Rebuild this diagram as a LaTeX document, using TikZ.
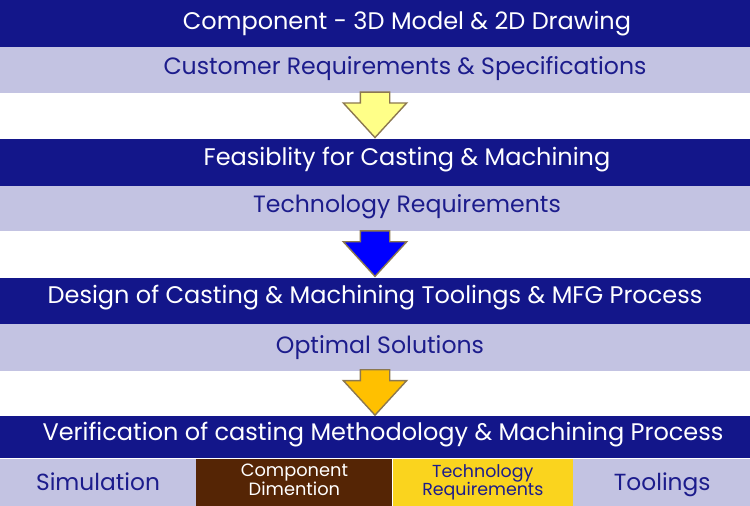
\documentclass[tikz,border=0pt]{standalone}
\usepackage{fontspec}
\setmainfont{Poppins}
\usetikzlibrary{positioning, shapes.arrows, calc}
\definecolor{cmNavy}{RGB}{19, 22, 138}
\definecolor{cmLav}{RGB}{195, 195, 226}
\definecolor{cmInk}{RGB}{28, 28, 140}
\definecolor{cmBrown}{RGB}{85, 37, 5}
\definecolor{cmGold}{RGB}{250, 212, 30}
\definecolor{cmPale}{RGB}{255, 255, 136}
\definecolor{cmBlue}{RGB}{0, 0, 255}
\definecolor{cmAmber}{RGB}{255, 192, 0}
\definecolor{cmEdge}{RGB}{140, 120, 80}

\begin{document}
\begin{tikzpicture}[x=1pt, y=-1pt,
    band/.style={rectangle, inner sep=0pt, minimum width=750pt},
    darkband/.style={band, fill=cmNavy},
    lightband/.style={band, fill=cmLav},
    headtext/.style={text=white, anchor=base, font=\fontsize{24}{28}\selectfont},
    subtext/.style={text=cmInk, anchor=base, font=\fontsize{23.6}{28}\selectfont},
    cell/.style={rectangle, inner sep=0pt, minimum height=50pt, align=center},
    blockarrow/.style={single arrow, shape border rotate=270, draw=cmEdge, line width=1.4pt,
        inner sep=14pt, minimum height=44pt, single arrow head extend=17pt,
        single arrow tip angle=85, anchor=tip}]
  \useasboundingbox (0,0) rectangle (750,506);

  % Bands
  \node[darkband, minimum height=47pt] (model) at (375,23.5) {};
  \node[lightband, minimum height=46pt, below=0pt of model] (cust) {};
  \node[darkband, minimum height=47pt, below=45pt of cust] (feas) {};
  \node[lightband, minimum height=45pt, below=0pt of feas] (techreq) {};
  \node[darkband, minimum height=46pt, below=46pt of techreq] (design) {};
  \node[lightband, minimum height=47pt, below=0pt of design] (optimal) {};
  \node[darkband, minimum height=42pt, below=45pt of optimal] (verif) {};

  % Band texts (placed on their baselines)
  \node[headtext] (modelT) at (407,29) {Component - 3D Model \& 2D Drawing};
  \node[subtext] (custT) at (405,74) {Customer Requirements \& Specifications};
  \node[headtext] (feasT) at (407,165) {Feasiblity for Casting \& Machining};
  \node[subtext] (techreqT) at (407,212) {Technology Requirements};
  \node[headtext] (designT) at (375,303) {Design of Casting \& Machining Toolings \& MFG Process};
  \node[subtext] (optimalT) at (380,353) {Optimal Solutions};
  \node[headtext] (verifT) at (383,440) {Verification of casting Methodology \& Machining Process};

  % Arrows
  \node[blockarrow, fill=cmPale] (arrA) at (feas.north) {};
  \node[blockarrow, fill=cmBlue] (arrB) at (design.north) {};
  \node[blockarrow, fill=cmAmber] (arrC) at (verif.north) {};

  % Bottom row
  \node[cell, anchor=north west, minimum width=196pt, fill=cmLav, text=cmInk, text depth=5pt,
        font=\fontsize{23.3}{26}\selectfont] (sim) at (verif.south west) {Simulation};
  \node[cell, right=0pt of sim, minimum width=196pt, fill=cmBrown, text=white, text depth=8pt,
        font=\fontsize{17.8}{19}\selectfont] (dim) {Component\\Dimention};
  \node[cell, right=0pt of dim, minimum width=180pt, fill=cmGold, text=cmInk, text depth=8pt,
        font=\fontsize{17.4}{18}\selectfont] (techcell) {Technology\\Requirements};
  \node[cell, right=0pt of techcell, minimum width=178pt, fill=cmLav, text=cmInk, text depth=5pt,
        font=\fontsize{23.3}{26}\selectfont] (tool) {Toolings};
\end{tikzpicture}
\end{document}
